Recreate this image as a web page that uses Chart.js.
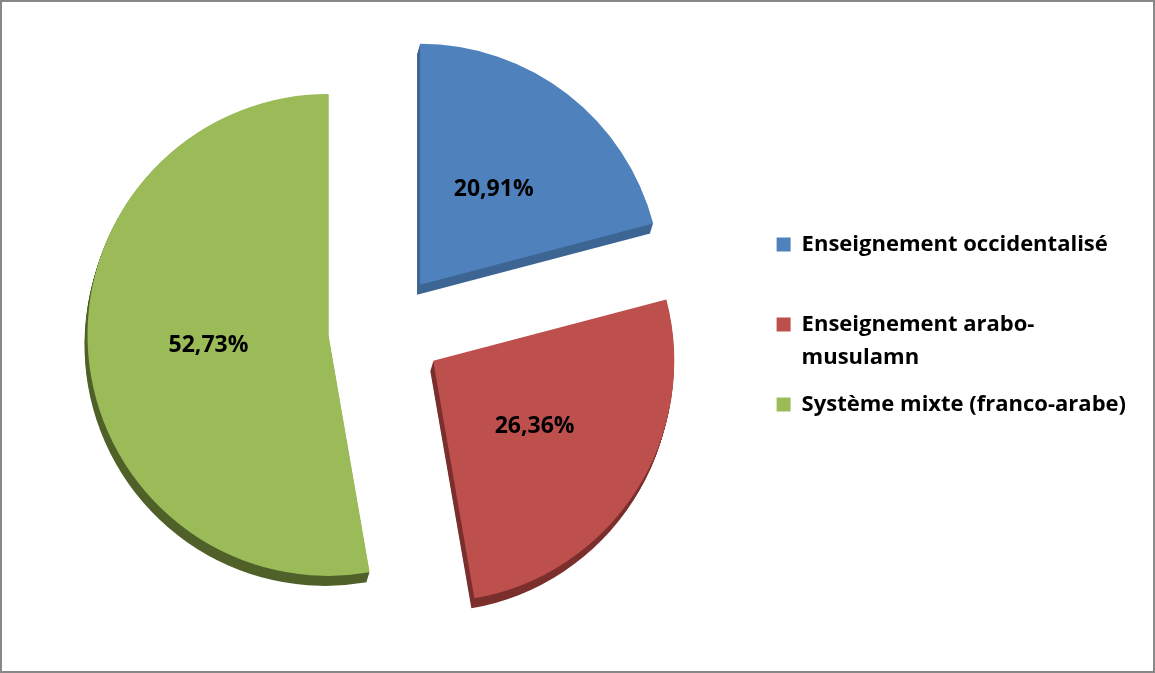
<!DOCTYPE html>
<html>
<head>
<meta charset="utf-8">
<script src="https://cdn.jsdelivr.net/npm/chart.js@4.4.1/dist/chart.umd.min.js"></script>
<style>
  body { margin: 0; background: #fff; }
  #wrap { position: relative; width: 1155px; height: 673px; }
  #frame { position: absolute; left: 0; top: 0; width: 1155px; height: 673px; box-sizing: border-box; border: 2px solid #888; pointer-events: none; }
</style>
</head>
<body>
<div id="wrap">
  <canvas id="pieChart" width="1155" height="673"></canvas>
  <div id="frame"></div>
</div>
<script>
// Data
const categories = ['Enseignement occidentalisé', ['Enseignement arabo-', 'musulamn'], 'Système mixte (franco-arabe)'];
const shares = [20.91, 26.36, 52.73];
// End data

const topColors = ['#4f81bd', '#bd4f4c', '#9bbb59'];
const sideColors = ['#3c6593', '#7a2f2d', '#4f6129'];
const EXPLODE = 57;
const DEPTH = 10;

const fmt = (v) => v.toFixed(2).replace('.', ',') + '%';

const explodedPie = {
    id: 'explodedPie',
    beforeDatasetDraw(chart, args) {
        const ctx = chart.ctx;
        const arcs = args.meta.data;
        // side faces first
        arcs.forEach((arc, i) => {
            const mid = (arc.startAngle + arc.endAngle) / 2;
            const dx = Math.cos(mid) * EXPLODE;
            const dy = Math.sin(mid) * EXPLODE;
            const side = Object.create(arc);
            side.options = Object.assign({}, arc.options, { backgroundColor: sideColors[i], borderColor: sideColors[i] });
            for (let k = 1; k <= DEPTH; k++) {
                ctx.save();
                ctx.translate(dx - k * 0.3, dy + k);
                side.draw(ctx);
                ctx.restore();
            }
        });
        arcs.forEach((arc) => {
            const mid = (arc.startAngle + arc.endAngle) / 2;
            ctx.save();
            ctx.translate(Math.cos(mid) * EXPLODE, Math.sin(mid) * EXPLODE);
            arc.draw(ctx);
            ctx.restore();
        });
        return false;
    },
    afterDatasetsDraw(chart) {
        const ctx = chart.ctx;
        ctx.save();
        ctx.font = 'bold 23px "Open Sans"';
        ctx.fillStyle = '#000';
        ctx.textAlign = 'center';
        ctx.textBaseline = 'middle';
        chart.getDatasetMeta(0).data.forEach((arc, i) => {
            const mid = (arc.startAngle + arc.endAngle) / 2;
            const d = EXPLODE + arc.outerRadius * 0.5;
            ctx.fillText(fmt(shares[i]), arc.x + Math.cos(mid) * d, arc.y + Math.sin(mid) * d);
        });
        ctx.restore();
    }
};

Chart.defaults.font.family = '"Open Sans"';

new Chart(document.getElementById('pieChart'), {
    type: 'pie',
    data: {
        labels: categories,
        datasets: [{
            data: shares,
            backgroundColor: topColors,
            borderWidth: 0
        }]
    },
    options: {
        responsive: false,
        animation: false,
        layout: {
            padding: { left: 8, right: 19, top: 89, bottom: 102 }
        },
        plugins: {
            tooltip: { enabled: false },
            legend: {
                position: 'right',
                labels: {
                    boxWidth: 14,
                    boxHeight: 14,
                    padding: 14,
                    color: '#000',
                    font: { size: 22, weight: 'bold', lineHeight: 33 / 22 },
                    generateLabels(chart) {
                        const n = chart.data.labels.length;
                        return chart.data.labels.map((label, i) => {
                            const lines = Array.isArray(label) ? label.slice() : [label];
                            if (i < n - 1 && lines.length < 2) lines.push('');
                            return {
                                text: lines,
                                fillStyle: topColors[i],
                                strokeStyle: topColors[i],
                                lineWidth: 0,
                                hidden: false,
                                index: i
                            };
                        });
                    }
                }
            }
        }
    },
    plugins: [explodedPie]
});
</script>
</body>
</html>
